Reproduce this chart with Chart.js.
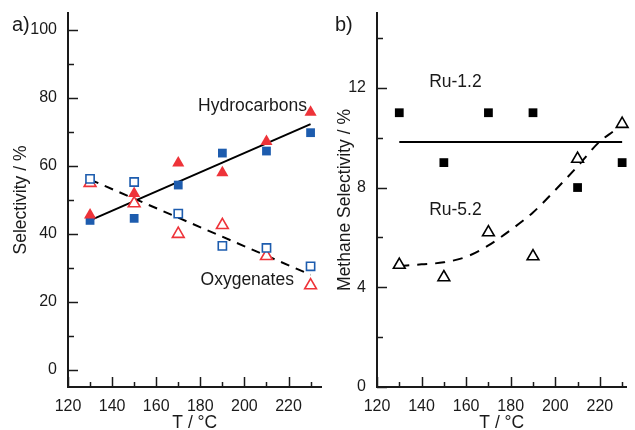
<!DOCTYPE html>
<html>
<head>
<meta charset="utf-8">
<script src="https://cdn.jsdelivr.net/npm/chart.js@4.4.1/dist/chart.umd.min.js"></script>
<style>
  body { margin: 0; background: #fff; }
  #wrap { position: relative; width: 635px; height: 430px; }
  canvas { position: absolute; top: 0; }
</style>
</head>
<body>
<div id="wrap">
  <canvas id="chartA" width="330" height="430" style="left:0"></canvas>
  <canvas id="chartB" width="305" height="430" style="left:330px"></canvas>
</div>
<script>
// temperatures (°C) shared by both panels
const temps = [130, 150, 170, 190, 210, 230];
const xTicks = [120, 130, 140, 150, 160, 170, 180, 190, 200, 210, 220, 230];

// panel a) selectivity / %
const hcSquares = [44, 44.6, 54.4, 63.8, 64.4, 69.8];     // hydrocarbons, filled blue squares
const hcTriangles = [45.6, 51.9, 60.9, 58, 67.2, 75.8];   // hydrocarbons, filled red triangles
const oxSquares = [56.2, 55.3, 46, 36.5, 35.9, 30.5];     // oxygenates, open blue squares
const oxTriangles = [55, 49, 40, 42.6, 33.5, 24.9];       // oxygenates, open red triangles
const hcFitT = [130, 230];
const hcFit = [44, 72.3];
const oxFitT = [130, 230];
const oxFit = [56, 28];
const yTicksA = [0, 10, 20, 30, 40, 50, 60, 70, 80, 90, 100];

// panel b) methane selectivity / %
const ru12 = [11, 9, 11, 11, 8, 9];
const ru52 = [4.9, 4.4, 6.2, 5.24, 9.15, 10.55];
const ru12MeanT = [130, 230];
const ru12Mean = [9.83, 9.83];
const ru52CurveT = [130, 140, 150, 160, 170, 180, 190, 200, 210, 220, 226];
const ru52Curve = [4.85, 4.92, 5.0, 5.22, 5.68, 6.3, 7.0, 7.9, 8.85, 9.85, 10.25];
const yTicksB = [0, 2, 4, 6, 8, 10, 12, 14];

const BLUE = "#1d5cae";
const RED = "#ee3339";
const AXIS = "#1a1a1a";
const FONT = "'Liberation Sans', Arial, sans-serif";

Chart.defaults.font.family = FONT;
Chart.defaults.color = AXIS;

function pts(xs, ys) {
  return xs.map((x, i) => ({ x: x, y: ys[i] }));
}

// tick marks drawn inside the plot area, major ones longer
const innerTicks = {
  id: "innerTicks",
  afterDraw(chart, args, opts) {
    const ctx = chart.ctx;
    const xs = chart.scales.x;
    const ys = chart.scales.y;
    ctx.save();
    ctx.strokeStyle = AXIS;
    ctx.lineWidth = 1.5;
    xs.ticks.forEach((t) => {
      const px = Math.round(xs.getPixelForValue(t.value)) + 0.5;
      const len = t.value % opts.xMajor === 0 ? 10 : 5;
      ctx.beginPath();
      ctx.moveTo(px, xs.top);
      ctx.lineTo(px, xs.top - len);
      ctx.stroke();
    });
    ys.ticks.forEach((t) => {
      const py = Math.round(ys.getPixelForValue(t.value)) + 0.5;
      const len = t.value % opts.yMajor === 0 ? 10 : 6;
      ctx.beginPath();
      ctx.moveTo(ys.right, py);
      ctx.lineTo(ys.right + len, py);
      ctx.stroke();
    });
    ctx.restore();
  },
};

// text notes placed in data space, panel letter in canvas space
const notes = {
  id: "notes",
  afterDraw(chart, args, opts) {
    const ctx = chart.ctx;
    const xs = chart.scales.x;
    const ys = chart.scales.y;
    ctx.save();
    ctx.fillStyle = AXIS;
    ctx.textBaseline = "alphabetic";
    ctx.font = "17.5px " + FONT;
    (opts.items || []).forEach((n) => {
      ctx.textAlign = n.align || "left";
      ctx.fillText(n.text, xs.getPixelForValue(n.x), ys.getPixelForValue(n.y));
    });
    ctx.font = "20px " + FONT;
    ctx.textAlign = "left";
    ctx.fillText(opts.panel, opts.panelX, 31);
    ctx.restore();
  },
};

function axes(cfg) {
  return {
    x: {
      type: "linear",
      min: 120,
      max: cfg.xMax,
      afterBuildTicks: (axis) => { axis.ticks = xTicks.map((v) => ({ value: v })); },
      afterFit: (axis) => {
        axis.height = 43;
        axis.paddingLeft = 0;
        axis.paddingRight = 0;
      },
      grid: { display: false, drawTicks: false },
      border: { display: true, color: AXIS, width: 2 },
      ticks: {
        autoSkip: false,
        maxRotation: 0,
        padding: 10,
        font: { size: 16 },
        callback: (v) => (v % 20 === 0 && v < 230 ? v : ""),
      },
      title: {
        display: true,
        text: "T / °C",
        font: { size: 17.5, lineHeight: 1 },
        padding: { top: 0, bottom: -2 },
      },
    },
    y: {
      type: "linear",
      min: cfg.yMin,
      max: cfg.yMax,
      afterBuildTicks: (axis) => { axis.ticks = cfg.yTicks.map((v) => ({ value: v })); },
      afterFit: (axis) => {
        axis.width = cfg.yWidth;
        axis.paddingTop = 0;
        axis.paddingBottom = 0;
      },
      grid: { display: false, drawTicks: false },
      border: { display: true, color: AXIS, width: 2 },
      ticks: {
        padding: 11,
        font: { size: 16 },
        callback: (v) => (v % cfg.yMajor === 0 ? v : ""),
      },
      title: {
        display: true,
        text: cfg.yTitle,
        font: { size: 17.5, lineHeight: 1.2 },
        padding: { top: cfg.titlePad, bottom: 0 },
      },
    },
  };
}

const baseOptions = {
  responsive: false,
  animation: false,
  events: [],
  layout: { padding: { top: 13, right: 0, bottom: 0, left: 0 } },
};

new Chart(document.getElementById("chartA"), {
  type: "scatter",
  data: {
    datasets: [
      { data: pts(temps, hcTriangles), pointStyle: "triangle", pointRadius: 7, backgroundColor: RED, borderColor: RED, borderWidth: 0, order: 0, clip: false },
      { data: pts(temps, hcSquares), pointStyle: "rect", pointRadius: 6.2, backgroundColor: BLUE, borderColor: BLUE, borderWidth: 0, order: 0, clip: false },
      { data: pts(temps, oxSquares), pointStyle: "rect", pointRadius: 5.8, backgroundColor: "#fff", borderColor: BLUE, borderWidth: 1.6, order: 0, clip: false },
      { data: pts(temps, oxTriangles), pointStyle: "triangle", pointRadius: 6.8, backgroundColor: "#fff", borderColor: RED, borderWidth: 1.6, order: 0, clip: false },
      { type: "line", data: pts(hcFitT, hcFit), borderColor: "#000", borderWidth: 2, pointRadius: 0, order: 1 },
      { type: "line", data: pts(oxFitT, oxFit), borderColor: "#000", borderWidth: 2, borderDash: [9, 7], pointRadius: 0, order: 1 },
    ],
  },
  options: Object.assign({}, baseOptions, {
    scales: axes({ xMax: 235, yMin: -5, yMax: 105, yTicks: yTicksA, yMajor: 20, yWidth: 68, yTitle: "Selectivity / %", titlePad: 11 }),
    plugins: {
      legend: { display: false },
      tooltip: { enabled: false },
      innerTicks: { xMajor: 20, yMajor: 20 },
      notes: {
        panel: "a)",
        panelX: 12,
        items: [
          { text: "Hydrocarbons", x: 228.4, y: 76.2, align: "right" },
          { text: "Oxygenates", x: 180.1, y: 25 },
        ],
      },
    },
  }),
  plugins: [innerTicks, notes],
});

new Chart(document.getElementById("chartB"), {
  type: "scatter",
  data: {
    datasets: [
      { data: pts(temps, ru12), pointStyle: "rect", pointRadius: 6.2, backgroundColor: "#000", borderColor: "#000", borderWidth: 0, order: 0, clip: false },
      { data: pts(temps, ru52), pointStyle: "triangle", pointRadius: 6.8, backgroundColor: "#fff", borderColor: "#000", borderWidth: 1.6, order: 0, clip: false },
      { type: "line", data: pts(ru12MeanT, ru12Mean), borderColor: "#000", borderWidth: 2, pointRadius: 0, order: 1 },
      { type: "line", data: pts(ru52CurveT, ru52Curve), borderColor: "#000", borderWidth: 2, borderDash: [10, 8], cubicInterpolationMode: "monotone", pointRadius: 0, order: 1 },
    ],
  },
  options: Object.assign({}, baseOptions, {
    scales: axes({ xMax: 232, yMin: 0, yMax: 15, yTicks: yTicksB, yMajor: 4, yWidth: 47, yTitle: "Methane Selectivity / %", titlePad: 5 }),
    plugins: {
      legend: { display: false },
      tooltip: { enabled: false },
      innerTicks: { xMajor: 20, yMajor: 4 },
      notes: {
        panel: "b)",
        panelX: 5,
        items: [
          { text: "Ru-1.2", x: 143.4, y: 12.04 },
          { text: "Ru-5.2", x: 143.4, y: 6.9 },
        ],
      },
    },
  }),
  plugins: [innerTicks, notes],
});
</script>
</body>
</html>
